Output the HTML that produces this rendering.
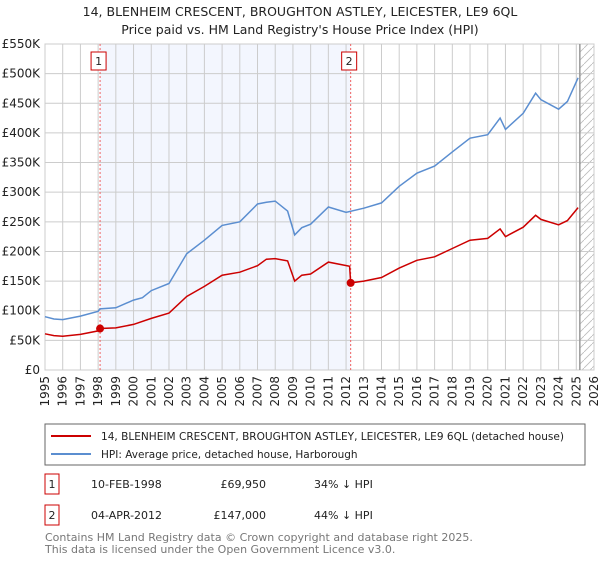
<!DOCTYPE html>
<html><head><meta charset="utf-8"><style>
body{margin:0;background:#fff;font-family:"Liberation Sans","DejaVu Sans",sans-serif;}
svg text{font-family:"DejaVu Sans","Liberation Sans",sans-serif;}
</style></head><body>
<svg id="c" width="600" height="560" viewBox="0 0 600 560">
<text x="300" y="16" text-anchor="middle" font-size="12.5" fill="#222">14, BLENHEIM CRESCENT, BROUGHTON ASTLEY, LEICESTER, LE9 6QL</text>
<text x="300" y="34" text-anchor="middle" font-size="12.5" fill="#222">Price paid vs. HM Land Registry's House Price Index (HPI)</text>
<g id="plot"></g>
<g>
<rect x="45" y="424" width="540" height="41" fill="#fff" stroke="#666"/>
<line x1="51" y1="436" x2="91" y2="436" stroke="#cc0000" stroke-width="2"/>
<text x="101" y="440" font-size="10.5" fill="#222" textLength="463" lengthAdjust="spacingAndGlyphs">14, BLENHEIM CRESCENT, BROUGHTON ASTLEY, LEICESTER, LE9 6QL (detached house)</text>
<line x1="51" y1="454" x2="91" y2="454" stroke="#5b8ed0" stroke-width="2"/>
<text x="101" y="458" font-size="10.5" fill="#222">HPI: Average price, detached house, Harborough</text>
</g>
<g font-size="11" fill="#222">
<rect x="45" y="474" width="14" height="20" fill="#fff" stroke="#cc0000"/><text x="52" y="488" text-anchor="middle">1</text>
<text x="91" y="488">10-FEB-1998</text><text x="266" y="488" text-anchor="end">£69,950</text><text x="314" y="488">34% ↓ HPI</text>
<rect x="45" y="505" width="14" height="20" fill="#fff" stroke="#cc0000"/><text x="52" y="519" text-anchor="middle">2</text>
<text x="91" y="519">04-APR-2012</text><text x="266" y="519" text-anchor="end">£147,000</text><text x="314" y="519">44% ↓ HPI</text>
</g>
<text x="45" y="541" font-size="11" fill="#777">Contains HM Land Registry data © Crown copyright and database right 2025.</text>
<text x="45" y="553" font-size="11" fill="#777">This data is licensed under the Open Government Licence v3.0.</text>
</svg>
<script>
const hpiYears=[1995,1995.5,1996,1997,1998,1998.1,1999,2000,2000.5,2001,2002,2003,2004,2005,2006,2007,2007.5,2008,2008.7,2009.1,2009.5,2010,2011,2012,2013,2014,2015,2016,2017,2018,2019,2020,2020.7,2021,2022,2022.7,2023,2024,2024.5,2025.1];
const hpiValues=[90,86,85,91,99,103,105,118,122,134,146,196,219,244,250,280,283,285,268,228,240,246,275,266,273,282,310,332,344,368,391,397,425,406,433,467,456,440,453,493];
const redYears=[1995,1995.5,1996,1997,1998,1998.1,1999,2000,2001,2002,2003,2004,2005,2006,2007,2007.5,2008,2008.7,2009.1,2009.5,2010,2011,2012.2,2012.26,2013,2014,2015,2016,2017,2018,2019,2020,2020.7,2021,2022,2022.7,2023,2024,2024.5,2025.1];
const redValues=[61,58,57,60,66,70,71,77,87,96,124,141,160,165,176,187,188,184,150,160,162,182,175,147,150,156,172,185,191,205,219,222,238,225,241,261,254,245,252,274];
const yTicks=[0,50,100,150,200,250,300,350,400,450,500,550];
const xTicks=[1995,1996,1997,1998,1999,2000,2001,2002,2003,2004,2005,2006,2007,2008,2009,2010,2011,2012,2013,2014,2015,2016,2017,2018,2019,2020,2021,2022,2023,2024,2025,2026];
const sales=[{t:1998.11,v:69.95,n:"1"},{t:2012.26,v:147,n:"2"}];
const X0=45,X1=594,Y0=370,Y1=44;
const xs=t=>X0+(t-1995)/31*(X1-X0);
const ys=v=>Y0-v/550*(Y0-Y1);
const g=document.getElementById('plot');const NS='http://www.w3.org/2000/svg';
function mk(tag,a,p){const e=document.createElementNS(NS,tag);for(const k in a)e.setAttribute(k,a[k]);(p||g).appendChild(e);return e;}
let e=mk('rect',{x:xs(sales[0].t),y:Y1,width:xs(sales[1].t)-xs(sales[0].t),height:Y0-Y1,fill:'#f3f6fe'});


const defs=mk('defs',{});const pat=mk('pattern',{id:'h',width:8,height:8,patternUnits:'userSpaceOnUse'},defs);
mk('line',{x1:0,y1:8,x2:8,y2:0,stroke:'#bbb','stroke-width':0.8},pat);
e=mk('rect',{x:xs(2025.2),y:Y1,width:X1-xs(2025.2),height:Y0-Y1,fill:'url(#h)'});


yTicks.forEach(v=>{let l=mk('line',{x1:X0,x2:X1,y1:ys(v),y2:ys(v),stroke:'#ccc'});


let t=mk('text',{x:40,y:ys(v)+4,'text-anchor':'end','font-size':12,fill:'#222'});t.textContent=v==0?'£0':'£'+v+'K';

});
xTicks.forEach(y=>{let l=mk('line',{x1:xs(y),x2:xs(y),y1:Y1,y2:Y0,stroke:'#ccc'});


let t=mk('text',{x:0,y:0,'font-size':12,fill:'#222','text-anchor':'end',transform:`translate(${xs(y)+4},${Y0+6}) rotate(-90)`});t.textContent=y;

});
mk('rect',{x:X0,y:Y1,width:X1-X0,height:Y0-Y1,fill:'none',stroke:'#ccc'});
e=mk('line',{x1:xs(2025.2),x2:xs(2025.2),y1:Y1,y2:Y0,stroke:'#999','stroke-width':1.5});


sales.forEach(s=>{let l=mk('line',{x1:xs(s.t),x2:xs(s.t),y1:Y1,y2:Y0,stroke:'#f06060','stroke-dasharray':'2,2'});

});
function path(xa,va,c,name){let d=xa.map((t,i)=>(i?'L':'M')+xs(t).toFixed(1)+','+ys(va[i]).toFixed(1)).join('');
let p=mk('path',{d:d,fill:'none',stroke:c,'stroke-width':1.5});

}
path(hpiYears,hpiValues,'#5b8ed0','hpi-line');
path(redYears,redValues,'#cc0000','property-line');
sales.forEach(s=>{let c=mk('circle',{cx:xs(s.t),cy:ys(s.v),r:4,fill:'#cc0000'});


let r=mk('rect',{x:xs(s.t)-9,y:52,width:15,height:18,fill:'#fff',stroke:'#cc0000'});


let t=mk('text',{x:xs(s.t)-1.5,y:65,'text-anchor':'middle','font-size':11,fill:'#222'});t.textContent=s.n;

});
</script>
</body></html>
